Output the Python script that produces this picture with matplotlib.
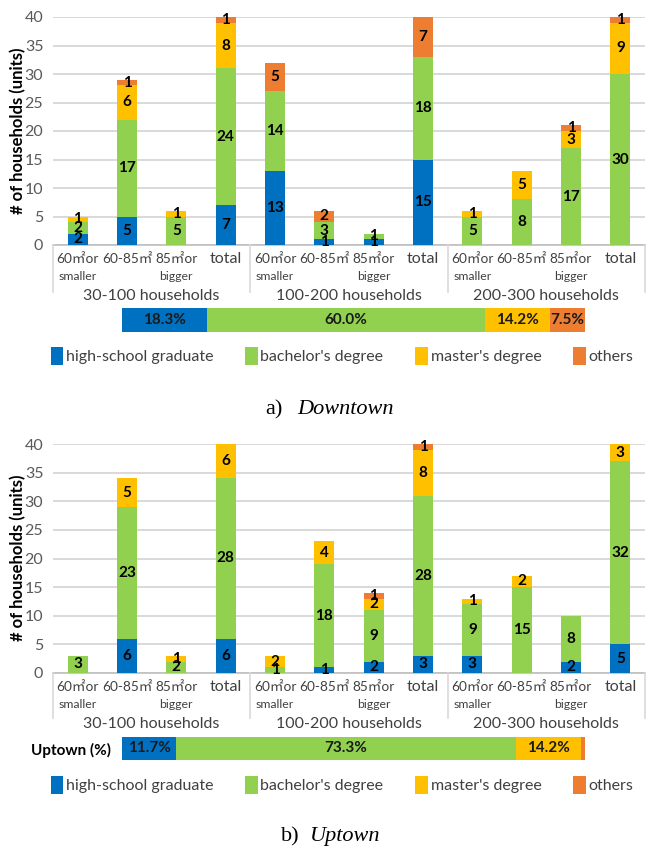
import numpy as np
import matplotlib.pyplot as plt
from matplotlib import transforms
from matplotlib.patches import Patch

plt.rcParams['font.family'] = ['Lato', 'Noto Sans CJK KR', 'DejaVu Sans']

# education levels and colours
levels = ["high-school graduate", "bachelor's degree", "master's degree", "others"]
colors = ['#0070C0', '#92D050', '#FFC000', '#ED7D31']

# x axis labels
size_top = ["60㎡or", "60-85㎡", "85㎡or", "total"] * 3
size_sub = ["smaller", "", "bigger", ""] * 3
groups = ["30-100 households", "100-200 households", "200-300 households"]

# a) Downtown (# of households per bar)
down_hs = [2, 5, 0, 7, 13, 1, 1, 15, 0, 0, 0, 0]
down_ba = [2, 17, 5, 24, 14, 3, 1, 18, 5, 8, 17, 30]
down_ma = [1, 6, 1, 8, 0, 0, 0, 0, 1, 5, 3, 9]
down_ot = [0, 1, 0, 1, 5, 2, 0, 7, 0, 0, 1, 1]
down_pct = [18.3, 60.0, 14.2, 7.5]

# b) Uptown
up_hs = [0, 6, 0, 6, 0, 1, 2, 3, 3, 0, 2, 5]
up_ba = [3, 23, 2, 28, 1, 18, 9, 28, 9, 15, 8, 32]
up_ma = [0, 5, 1, 6, 2, 4, 2, 8, 1, 2, 0, 3]
up_ot = [0, 0, 0, 0, 0, 0, 1, 1, 0, 0, 0, 0]
up_pct = [11.7, 73.3, 14.2, 0.8]

W, H = 662, 858
fig = plt.figure(figsize=(W / 100, H / 100), dpi=100)


def box(x0, y0, x1, y1):
    return [x0 / W, 1 - y1 / H, (x1 - x0) / W, (y1 - y0) / H]


def px2pt(p):
    return p * 0.72


def count_chart(rect, series):
    ax = fig.add_axes(rect)
    x = np.arange(len(size_top))
    bottom = np.zeros(len(x))
    for vals, c in zip(series, colors):
        vals = np.array(vals, dtype=float)
        ax.bar(x, vals, 0.4, bottom=bottom, color=c, zorder=3)
        for xi, b, v in zip(x, bottom, vals):
            if v > 0:
                ax.text(xi, b + v / 2, str(int(v)), ha='center', va='center',
                        fontsize=11, fontweight='bold', color='black', zorder=4)
        bottom += vals
    ax.set_xlim(-0.5, 11.5)
    ax.set_ylim(0, 40)
    ax.set_yticks(range(0, 41, 5))
    ax.yaxis.grid(True, color='#D9D9D9', lw=1.4)
    ax.set_axisbelow(True)
    for s in ['top', 'right', 'left']:
        ax.spines[s].set_visible(False)
    ax.spines['bottom'].set_color('#BFBFBF')
    ax.spines['bottom'].set_linewidth(1.2)
    ax.set_xticks([])
    ax.tick_params(axis='y', length=0, labelsize=11.5, labelcolor='#595959', pad=7)

    # category table under the bars
    trans = transforms.blended_transform_factory(ax.transData, ax.transAxes)
    for i in x:
        fs = 11.5 if size_top[i] == "total" else 9.8
        ax.annotate(size_top[i], xy=(i, 0), xycoords=trans, xytext=(0, -px2pt(14)),
                    textcoords='offset points', ha='center', va='center',
                    fontsize=fs, color='#404040')
        if size_sub[i]:
            ax.annotate(size_sub[i], xy=(i, 0), xycoords=trans, xytext=(0, -px2pt(32)),
                        textcoords='offset points', ha='center', va='center',
                        fontsize=8.8, color='#404040')
    for g, name in enumerate(groups):
        ax.annotate(name, xy=(4 * g + 1.5, 0), xycoords=trans, xytext=(0, -px2pt(51)),
                    textcoords='offset points', ha='center', va='center',
                    fontsize=11.5, color='#404040')
    return ax


def sep_lines(ax, top_px, bot_px):
    for xs in [-0.5, 3.5, 7.5, 11.5]:
        xf = ax.transData.transform((xs, 0))[0] / W
        fig.add_artist(plt.Line2D([xf, xf], [1 - top_px / H, 1 - bot_px / H],
                                  transform=fig.transFigure, color='#D9D9D9', lw=1.2))


def pct_bar(rect, pct, label):
    ax = fig.add_axes(rect)
    left = 0
    for v, c in zip(pct, colors):
        ax.barh([0], [v], left=left, height=1.0, color=c)
        if v >= 2:
            ax.text(left + v / 2, 0, f"{v:.1f}%", ha='center', va='center',
                    fontsize=11, fontweight='bold', color='#1a1a1a')
        left += v
    ax.set_xlim(0, sum(pct))
    ax.set_ylim(-0.5, 0.5)
    for s in ax.spines.values():
        s.set_visible(False)
    ax.set_xticks([])
    if label:
        ax.set_yticks([0])
        ax.set_yticklabels([label], fontsize=11, fontweight='bold')
        ax.tick_params(axis='y', length=0, pad=8)
    else:
        ax.set_yticks([])
    return ax


def legend(y_px):
    handles = [Patch(facecolor=c, label=l) for c, l in zip(colors, levels)]
    fig.legend(handles=handles, loc='center', bbox_to_anchor=(342 / W, 1 - y_px / H),
               ncol=4, frameon=False, fontsize=11.5, handlelength=0.8, handleheight=1.3,
               handletextpad=0.15, columnspacing=2.0, labelcolor='#404040',
               borderaxespad=0, borderpad=0)


# a) Downtown
ax1 = count_chart(box(53, 17, 645, 245), [down_hs, down_ba, down_ma, down_ot])
sep_lines(ax1, 245, 292)
fig.text(18 / W, 1 - 131 / H, "# of households (units)", rotation=90, ha='center',
         va='center', fontsize=12, fontweight='bold')
pct_bar(box(122, 308, 585, 332), down_pct, None)
legend(356)
fig.text(283 / W, 1 - 410 / H, "a)", ha='right', va='center', fontsize=16,
         family='Liberation Serif')
fig.text(297 / W, 1 - 410 / H, "Downtown", ha='left', va='center', fontsize=16,
         family='Liberation Serif', style='italic')

# b) Uptown
ax2 = count_chart(box(53, 444, 645, 673), [up_hs, up_ba, up_ma, up_ot])
sep_lines(ax2, 673, 718)
fig.text(18 / W, 1 - 558 / H, "# of households (units)", rotation=90, ha='center',
         va='center', fontsize=12, fontweight='bold')
pct_bar(box(122, 737, 585, 760), up_pct, "Uptown (%)")
legend(785)
fig.text(300 / W, 1 - 837 / H, "b)", ha='right', va='center', fontsize=16,
         family='Liberation Serif')
fig.text(310 / W, 1 - 837 / H, "Uptown", ha='left', va='center', fontsize=16,
         family='Liberation Serif', style='italic')

fig.savefig('out.png', dpi=100)
